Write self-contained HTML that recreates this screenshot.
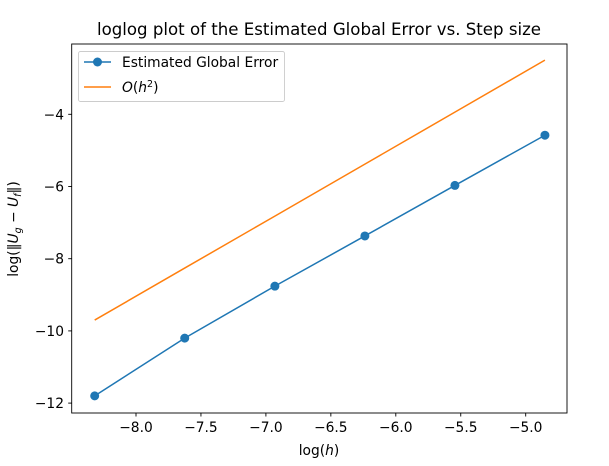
<!DOCTYPE html>
<html><head><meta charset="utf-8"><style>
body{margin:0;background:#fff}
svg text{font-family:"DejaVu Sans","Liberation Sans",sans-serif;fill:#000}
</style></head><body>
<svg id="chart" width="609" height="461" xmlns="http://www.w3.org/2000/svg">
<rect width="609" height="461" fill="#fff"/>
<text x="319" y="35" font-size="16.6" text-anchor="middle">loglog plot of the Estimated Global Error vs. Step size</text>
<g id="plot"></g>
<rect x="71.7" y="44" width="495.3" height="369" fill="none" stroke="#000" stroke-width="0.9"/>
<text x="319" y="455" font-size="13.8" text-anchor="middle">log(<tspan font-style="italic">h</tspan>)</text>
<text transform="translate(18,229) rotate(-90)" font-size="13.8" text-anchor="middle">log(‖<tspan font-style="italic">U</tspan><tspan font-style="italic" font-size="9.5" dy="3">g</tspan><tspan dy="-3"> − </tspan><tspan font-style="italic">U</tspan><tspan font-style="italic" font-size="9.5" dy="3">f</tspan><tspan dy="-3">‖)</tspan></text>
<g>
<rect x="78.5" y="51.5" width="206" height="50" rx="2" fill="#fff" stroke="#ccc" stroke-width="0.9"/>
<line x1="84" y1="62" x2="111" y2="62" stroke="#1f77b4" stroke-width="1.5"/>
<circle cx="97.5" cy="62" r="4.5" fill="#1f77b4"/>
<text x="122" y="67" font-size="13.8">Estimated Global Error</text>
<line x1="84" y1="87" x2="111" y2="87" stroke="#ff7f0e" stroke-width="1.5"/>
<text x="122" y="92" font-size="13.8"><tspan font-style="italic">O</tspan>(<tspan font-style="italic">h</tspan><tspan font-size="9.5" dy="-5">2</tspan><tspan dy="5">)</tspan></text>
</g>
</svg>
<script>
const logH = [-8.318, -7.625, -6.931, -6.238, -5.545, -4.852];
const errorValues = [-11.80, -10.20, -8.76, -7.37, -5.97, -4.58];
const refValues = [-9.70, -8.26, -6.82, -5.38, -3.94, -2.50];
const xTicks = [-8.0, -7.5, -7.0, -6.5, -6.0, -5.5, -5.0];
const yTicks = [-12, -10, -8, -6, -4];
const NS = "http://www.w3.org/2000/svg";
function xs(v){return 136 + (v + 8) * 129.9;}
function ys(v){return 114.3 + (-4 - v) * 36.1;}
const g = document.getElementById('plot');
function mk(t, a){const e=document.createElementNS(NS,t);for(const k in a)e.setAttribute(k,a[k]);g.appendChild(e);return e;}
function fmt(v,d){return (v<0?'\u2212':'')+Math.abs(v).toFixed(d);}
xTicks.forEach(v=>{
  const l=mk('line',{x1:xs(v),x2:xs(v),y1:413,y2:416.5,stroke:'#000','stroke-width':0.9});
  
  
  const t=mk('text',{x:xs(v),y:432,'font-size':13.8,'text-anchor':'middle'});
  t.textContent=fmt(v,1);
  
  
});
yTicks.forEach(v=>{
  const l=mk('line',{x1:68.2,x2:71.7,y1:ys(v),y2:ys(v),stroke:'#000','stroke-width':0.9});
  
  
  const t=mk('text',{x:64,y:ys(v)+5,'font-size':13.8,'text-anchor':'end'});
  t.textContent=fmt(v,0);
  
  
});
const ref=mk('polyline',{points:logH.map((x,i)=>xs(x)+','+ys(refValues[i])).join(' '),fill:'none',stroke:'#ff7f0e','stroke-width':1.5});


const err=mk('polyline',{points:logH.map((x,i)=>xs(x)+','+ys(errorValues[i])).join(' '),fill:'none',stroke:'#1f77b4','stroke-width':1.5});


logH.forEach((x,i)=>{
  const c=mk('circle',{cx:xs(x),cy:ys(errorValues[i]),r:4.5,fill:'#1f77b4'});
  
  
});
</script>
</body></html>
